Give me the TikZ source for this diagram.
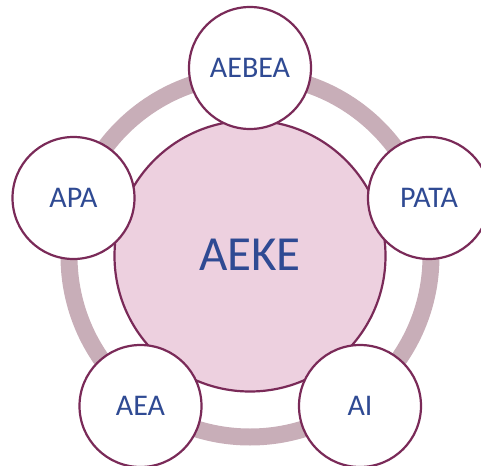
\documentclass[tikz,border=0pt]{standalone}
\usepackage{fontspec}
\setmainfont{Carlito}
\definecolor{bordc}{HTML}{7A2A58}
\definecolor{fillc}{HTML}{EDD0DF}
\definecolor{ringc}{HTML}{C8AEB8}
\definecolor{textc}{HTML}{2F4A93}
\begin{document}
\begin{tikzpicture}[x=1pt,y=-1pt,
  sat/.style={circle,draw=bordc,line width=2.2pt,fill=white,minimum size=122pt,inner sep=0pt,text=textc,font=\fontsize{30}{30}\selectfont},
  hub/.style={circle,draw=bordc,line width=2.2pt,fill=fillc,minimum size=271pt,inner sep=0pt,text=textc,font=\fontsize{49}{49}\selectfont}]
\useasboundingbox (0,0) rectangle (481,465);
\coordinate (c) at (250,256);
\draw[ringc,line width=17pt] (c) circle[radius=181];
\node[hub] (hub) at (c) {\raisebox{3pt}{AEKE}};
\node[sat] (top) at (250,68) {AEBEA};
\node[sat] (right) at (429,198) {PATA};
\node[sat] (left) at (73.5,198) {APA};
\node[sat] (bl) at (140.5,406) {AEA};
\node[sat] (br) at (360,406) {AI};
\end{tikzpicture}
\end{document}
